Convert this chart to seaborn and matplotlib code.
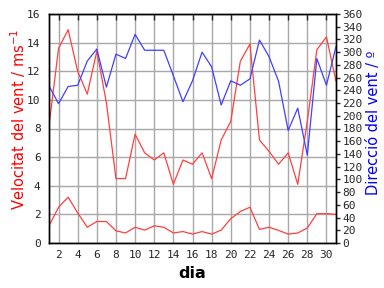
import matplotlib
matplotlib.use("Agg")
import matplotlib.pyplot as plt
import seaborn as sns
import pandas as pd
import numpy as np

days = list(range(1, 32))
gust = [8.2, 13.6, 14.9, 12.0, 10.4, 13.4, 9.8, 4.5, 4.5, 7.6, 6.3, 5.8, 6.3, 4.1, 5.8, 5.5,
        6.3, 4.5, 7.2, 8.5, 12.7, 13.9, 7.2, 6.4, 5.5, 6.3, 4.1, 8.5, 13.5, 14.4, 11.3]
mean_speed = [1.2, 2.5, 3.2, 2.1, 1.1, 1.5, 1.5, 0.85, 0.7, 1.1, 0.9, 1.2, 1.1, 0.7, 0.8, 0.62,
              0.8, 0.62, 0.9, 1.7, 2.2, 2.5, 0.95, 1.1, 0.88, 0.62, 0.7, 1.05, 2.05, 2.05, 2.0]
direction = [247, 219, 246, 248, 286, 305, 245, 297, 290, 328, 303, 303, 303, 263, 222, 255,
             300, 277, 217, 255, 248, 258, 319, 293, 254, 177, 212, 138, 290, 248, 309]

x_ticks = list(range(2, 31, 2))
left_ticks = list(range(0, 17, 2))
right_ticks = list(range(0, 361, 20))

sns.set_style("white")
plt.rcParams['font.family'] = ['DejaVu Sans']

df = pd.DataFrame({"dia": days, "gust": gust, "mean": mean_speed, "dir": direction})

red = "#ff4040"
blue = "#4040ff"

fig = plt.figure(figsize=(3.84, 2.88), dpi=100)
ax = fig.add_axes([49/384, 45/288, 287/384, 229/288])
ax2 = ax.twinx()

sns.lineplot(data=df, x="dia", y="gust", ax=ax, color=red, linewidth=0.9)
sns.lineplot(data=df, x="dia", y="mean", ax=ax, color=red, linewidth=0.9)
sns.lineplot(data=df, x="dia", y="dir", ax=ax2, color=blue, linewidth=0.9)

ax.set_xlim(1, 31)
ax.set_ylim(0, 16)
ax2.set_ylim(0, 360)
ax.set_xticks(x_ticks)
ax.set_yticks(left_ticks)
ax2.set_yticks(right_ticks)

ax.grid(True, color="#a8a8a8", linewidth=1)
ax2.grid(False)
ax.set_axisbelow(True)

mono = "DejaVu Sans Mono"
ax.tick_params(axis="x", direction="in", top=True, length=4, width=1, labelsize=8, pad=5)
ax.tick_params(axis="y", direction="in", length=0, labelsize=8, pad=6)
ax2.tick_params(axis="y", direction="out", length=3, width=1, labelsize=8, pad=1.5)
for lab in ax.get_xticklabels() + ax.get_yticklabels() + ax2.get_yticklabels():
    lab.set_fontfamily(mono)

ax.set_xlabel("dia", fontsize=11.5, color="black", fontweight="bold")
ax.xaxis.set_label_coords(0.5, -(273 - 243) / 229, transform=ax.transAxes)
ax.xaxis.label.set_va("center")
ax.set_ylabel("Velocitat del vent / ms$^{-1}$", fontsize=10.5, color="red")
ax.yaxis.set_label_coords(-(49 - 18) / 287, (243 - 119) / 229, transform=ax.transAxes)
ax.yaxis.label.set_va("center")
ax2.set_ylabel("Direcció del vent / º", fontsize=10.5, color="blue")
ax2.yaxis.set_label_coords(1 + (374 - 336) / 287, (243 - 123) / 229, transform=ax.transAxes)
ax2.yaxis.label.set_va("center")

for a in (ax, ax2):
    for s in a.spines.values():
        s.set_color("black")
        s.set_linewidth(1)

fig.savefig("out.png", dpi=100, facecolor="white")
